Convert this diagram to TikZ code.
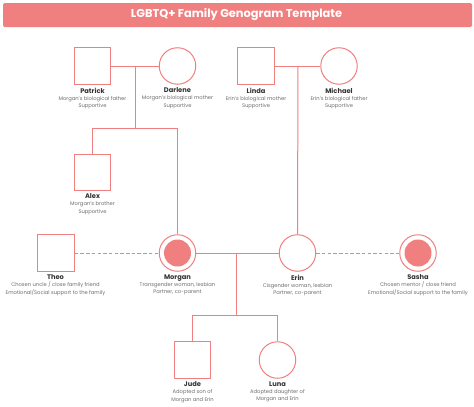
\documentclass[tikz,border=0pt]{standalone}
\usepackage{fontspec}
\setmainfont{Poppins}
\definecolor{coral}{HTML}{F08080}
\definecolor{namegray}{HTML}{333333}
\definecolor{descgray}{HTML}{6E6E6E}
\newcommand\gnamefont{\fontsize{6.7}{7.2}\selectfont\bfseries\color{namegray}}
\begin{document}
\begin{tikzpicture}[x=1pt,y=-1pt,
  line/.style={draw=coral,line width=1pt},
  dline/.style={draw=coral,line width=1pt,dash pattern=on 3.5pt off 2.2pt},
  male/.style={draw=coral,line width=1pt,minimum size=36.5pt,inner sep=0pt,fill=white},
  female/.style={draw=coral,line width=1pt,circle,minimum size=36.5pt,inner sep=0pt,fill=white},
  inner/.style={circle,fill=coral,minimum size=27pt,inner sep=0pt},
  lbl/.style={anchor=north,align=center,inner sep=0pt,font=\fontsize{5.2}{7.2}\selectfont,text=descgray}
]
\useasboundingbox (0,0) rectangle (474,407);
\fill[white] (0,0) rectangle (474,407);
% title
\node[fill=coral,rounded corners=1.5pt,minimum width=469pt,minimum height=24pt,inner sep=0pt] (bar) at (237.5,15) {};
\node[text=white,font=\fontsize{11.4}{12}\selectfont\bfseries] (title) at (236.5,15) {LGBTQ+ Family Genogram Template};

% shapes
\node[male] (patrick) at (92.5,66) {};
\node[female] (darlene) at (177.5,66) {};
\node[male] (linda) at (256,66) {};
\node[female] (michael) at (339,66) {};
\node[male] (alex) at (92.5,172.5) {};
\node[male] (theo) at (56,253) {};
\node[female] (morgan) at (177.5,253) {};
\node[inner] (morganin) at (177.5,253) {};
\node[female] (erin) at (297.5,253) {};
\node[female] (sasha) at (418,253) {};
\node[inner] (sashain) at (418,253) {};
\node[male] (jude) at (192.5,360) {};
\node[female] (luna) at (277.5,360) {};

% coordinates
\coordinate (pd) at (135,66);
\coordinate (pdk) at (135,128);
\coordinate (ak) at (92.5,128);
\coordinate (mk) at (177.5,128);
\coordinate (lm) at (298,66);
\coordinate (me) at (236,253);
\coordinate (mek) at (236,315);
\coordinate (jk) at (192.5,315);
\coordinate (lk) at (277.5,315);

% connectors
\draw[line] (patrick.east) -- (darlene.west);
\draw[line] (pd) -- (pdk);
\draw[line] (ak) -- (mk);
\draw[line] (ak) -- (alex.north);
\draw[line] (mk) -- (morgan.north);
\draw[line] (linda.east) -- (michael.west);
\draw[line] (lm) -- (erin.north);
\draw[line] (morgan.east) -- (erin.west);
\draw[line] (me) -- (mek);
\draw[line] (jk) -- (lk);
\draw[line] (jk) -- (jude.north);
\draw[line] (lk) -- (luna.north);
\draw[dline] (theo.east) -- (morgan.west);
\draw[dline] (erin.east) -- (sasha.west);

% labels
\node[lbl] (lpatrick) at (92.5,87.5) {{\gnamefont Patrick}\\Morgan’s biological father\\Supportive};
\node[lbl] (ldarlene) at (177.5,87.5) {{\gnamefont Darlene}\\Morgan’s biological mother\\Supportive};
\node[lbl] (llinda) at (256,87.5) {{\gnamefont Linda}\\Erin’s biological mother\\Supportive};
\node[lbl] (lmichael) at (339,87.5) {{\gnamefont Michael}\\Erin’s biological father\\Supportive};
\node[lbl] (lalex) at (92.5,193.5) {{\gnamefont Alex}\\Morgan’s brother\\Supportive};
\node[lbl] (ltheo) at (55.5,274.5) {{\gnamefont Theo}\\Chosen uncle / close family friend\\Emotional/Social support to the family};
\node[lbl] (lmorgan) at (177.5,274.5) {{\gnamefont Morgan}\\Transgender woman, lesbian\\Partner, co-parent};
\node[lbl] (lerin) at (297.5,274.5) {{\gnamefont Erin}\\Cisgender woman, lesbian\\Partner, co-parent};
\node[lbl] (lsasha) at (418,274.5) {{\gnamefont Sasha}\\Chosen mentor / close friend\\Emotional/Social support to the family};
\node[lbl] (ljude) at (192.5,381.5) {{\gnamefont Jude}\\Adopted son of\\Morgan and Erin};
\node[lbl] (lluna) at (277.5,381.5) {{\gnamefont Luna}\\Adopted daughter of\\Morgan and Erin};
\end{tikzpicture}
\end{document}
